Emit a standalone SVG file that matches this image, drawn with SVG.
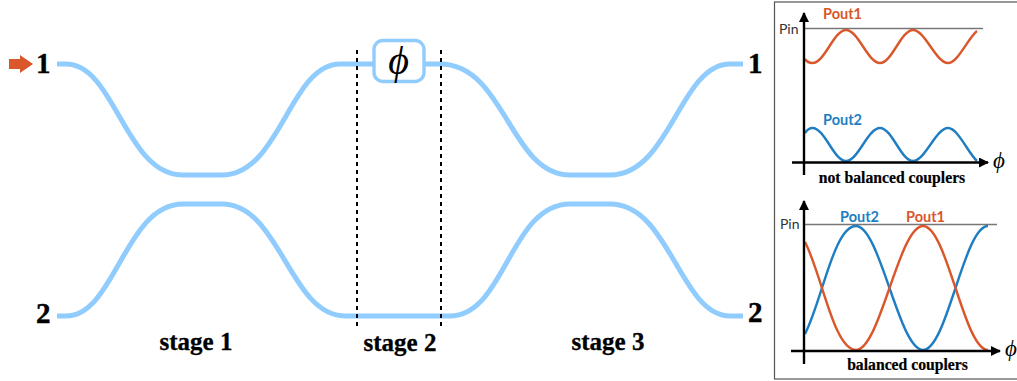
<svg xmlns="http://www.w3.org/2000/svg" width="1017" height="381" viewBox="0 0 1017 381">
<defs>
<marker id="ah" markerWidth="12" markerHeight="12" refX="9" refY="5" orient="auto" markerUnits="userSpaceOnUse"><path d="M0 0L10 5L0 10Z" fill="#000"/></marker>
<style>
text{font-family:"Liberation Serif","Times New Roman",serif}
.wg{fill:none;stroke:#90CCFD;stroke-width:5}
.dash{fill:none;stroke:#000;stroke-width:2;stroke-dasharray:4 4}
.big{font-weight:bold;font-size:29px;fill:#000;stroke:#000;stroke-width:.4}
.stage{font-weight:bold;font-size:25px;fill:#000;text-anchor:middle;stroke:#000;stroke-width:.3}
.cap{font-weight:bold;font-size:15.700px;fill:#000;text-anchor:middle;stroke:#000;stroke-width:.2}
.axis{fill:none;stroke:#000;stroke-width:2.400}
.pin{fill:none;stroke:#777;stroke-width:1.400}
.o{fill:none;stroke:#D9572B;stroke-width:2.400}
.b{fill:none;stroke:#1F7EC2;stroke-width:2.400}
.lo{font-family:"Lato",sans-serif;font-weight:bold;font-size:14.500px;fill:#D9572B}
.lb{font-family:"Lato",sans-serif;font-weight:bold;font-size:14.500px;fill:#1F7EC2}
.lp{font-family:"Lato",sans-serif;font-size:14px;fill:#333}
.phi{font-style:italic;fill:#000}
</style>
</defs>
<g id="connectors">
<path class="wg" d="M57 64H66C115 64 125 175 183 175H222C280 175 290 64 340 64H374"/>
<path class="wg" d="M424 64H440C505 64 510 175 570 175H610C670 175 680 64 730 64H743"/>
<path class="wg" d="M57 316H66C115 316 125 204 183 204H222C280 204 290 316 345 316H450C505 316 510 204 570 204H610C670 204 680 316 730 316H743"/>
<path class="dash" d="M357 50V330"/>
<path class="dash" d="M441 50V330"/>
</g>
<g id="input-arrow"><path d="M9 59H20V55L33 64L20 73V69H9Z" fill="#D9572B"/></g>
<g id="phase-shifter">
<rect x="374" y="40.500" width="50" height="41" rx="9" fill="#fff" stroke="#90CCFD" stroke-width="3.400"/>
<text class="phi" x="398.500" y="74" font-size="40" text-anchor="middle">ϕ</text>
</g>
<g id="port-in-1"><text class="big" x="36" y="73">1</text></g>
<g id="port-in-2"><text class="big" x="36" y="323">2</text></g>
<g id="port-out-1"><text class="big" x="748" y="73">1</text></g>
<g id="port-out-2"><text class="big" x="748" y="322">2</text></g>
<g id="stage-1"><text class="stage" x="196" y="350">stage 1</text></g>
<g id="stage-2"><text class="stage" x="400" y="351">stage 2</text></g>
<g id="stage-3"><text class="stage" x="608" y="350">stage 3</text></g>
<g id="plots">
<rect x="774.500" y="2" width="250" height="377" fill="none" stroke="#555" stroke-width="1.200"/>
<path class="pin" d="M805 28.500H983"/>
<path class="o" d="M805 59C807 62 809 63 812.500 63C824.700 63 833.800 30 846 30C858.200 30 867.800 63 880 63C892 63 901 30 913 30C925 30 936 63 948 63C958 63 968 38 977 31"/>
<path class="b" d="M805 133C807 130 809 128 812.500 128C824.700 128 833.800 161 846 161C858.200 161 867.800 128 880 128C892 128 901 161 913 161C925 161 936 128 948 128C958 128 968 153 977 161"/>
<path class="axis" marker-end="url(#ah)" d="M804 175V13"/>
<path class="axis" marker-end="url(#ah)" d="M792 162.500H988"/>
<text class="lo" x="823" y="19">Pout1</text>
<text class="lb" x="823" y="125">Pout2</text>
<text class="lp" x="779" y="34">Pin</text>
<text class="phi" x="993" y="168" font-size="23">ϕ</text>
<text class="cap" x="892" y="183">not balanced couplers</text>
<path class="pin" d="M805 224.500H997"/>
<path class="b" d="M805 334C822 301 834 226 856 226C880 226 899 350 923 350C947 350 964 226 988 226"/>
<path class="o" d="M805 242C822 275 834 350 856 350C880 350 899 226 923 226C947 226 964 350 988 350"/>
<path class="axis" marker-end="url(#ah)" d="M804 364V201"/>
<path class="axis" marker-end="url(#ah)" d="M791 351H1000"/>
<text class="lb" x="840" y="222">Pout2</text>
<text class="lo" x="906" y="222">Pout1</text>
<text class="lp" x="780" y="229">Pin</text>
<text class="phi" x="1005" y="356" font-size="23">ϕ</text>
<text class="cap" x="907.500" y="370">balanced couplers</text>
</g>
</svg>
